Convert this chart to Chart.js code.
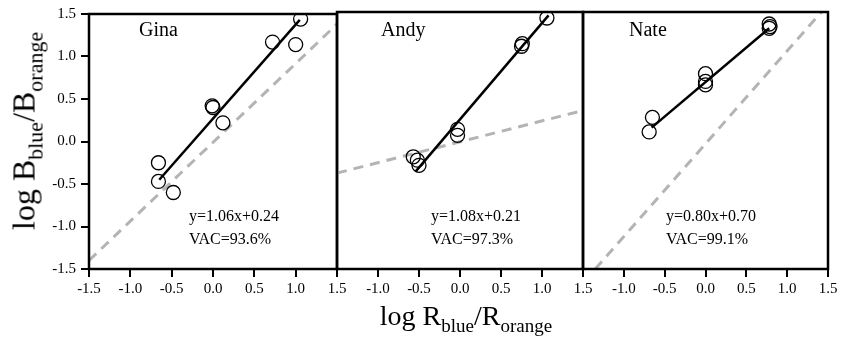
<!DOCTYPE html>
<html>
<head>
<meta charset="utf-8">
<script src="https://cdn.jsdelivr.net/npm/chart.js@4.4.1/dist/chart.umd.min.js"></script>
<style>
  body { margin: 0; background: #fff; }
  #wrap { position: relative; width: 841px; height: 346px; overflow: hidden; font-family: "Liberation Serif", "Times New Roman", serif; }
  #wrap canvas { position: absolute; left: 0; top: 0; }
  .ttl { position: absolute; white-space: nowrap; color: #000; font-size: 28px; line-height: 1; }
  .ttl sub { font-size: 19px; vertical-align: -7px; }
  #ytitle { left: 27px; top: 131px; transform: translate(-50%, -50%) rotate(-90deg); font-size: 32px; }
  #ytitle sub { font-size: 22px; vertical-align: -8px; }
  #xtitle { left: 466px; top: 318px; transform: translate(-50%, -50%); }
</style>
</head>
<body>
<div id="wrap">
  <canvas id="c1" width="841" height="346"></canvas>
  <canvas id="c2" width="841" height="346"></canvas>
  <canvas id="c3" width="841" height="346"></canvas>
  <div id="ytitle" class="ttl">log B<sub>blue</sub>/B<sub>orange</sub></div>
  <div id="xtitle" class="ttl">log R<sub>blue</sub>/R<sub>orange</sub></div>
</div>
<script>
/* ── Data ── */
const panelNames = ['Gina', 'Andy', 'Nate'];
const eqLabels   = ['y=1.06x+0.24', 'y=1.08x+0.21', 'y=0.80x+0.70'];
const vacLabels  = ['VAC=93.6%', 'VAC=97.3%', 'VAC=99.1%'];
const axisTicks  = [-1.5, -1.0, -0.5, 0.0, 0.5, 1.0, 1.5];

const ginaX = [-0.66, -0.66, -0.48, -0.01, 0.00, 0.12, 0.72, 1.00, 1.06];
const ginaY = [-0.25, -0.47, -0.60, 0.42, 0.40, 0.22, 1.17, 1.14, 1.44];
const andyX = [-0.57, -0.52, -0.50, -0.03, -0.03, 0.75, 0.76, 1.06];
const andyY = [-0.19, -0.23, -0.29, 0.13, 0.06, 1.10, 1.13, 1.43];
const nateX = [-0.69, -0.65, 0.00, 0.00, 0.00, 0.78, 0.79, 0.78];
const nateY = [0.10, 0.27, 0.78, 0.69, 0.65, 1.36, 1.33, 1.31];

// fitted regression lines (end points)
const ginaFitX = [-0.65, 1.05], ginaFitY = [-0.45, 1.43];
const andyFitX = [-0.54, 1.08], andyFitY = [-0.36, 1.46];
const nateFitX = [-0.66, 0.78], nateFitY = [0.15, 1.31];

// grey dashed reference lines
const ginaRefX = [-1.5, 1.5],   ginaRefY = [-1.40, 1.38];
const andyRefX = [-1.5, 1.5],   andyRefY = [-0.38, 0.35];
const nateRefX = [-1.35, 1.42], nateRefY = [-1.5, 1.5];

/* ── Helpers ── */
const FONT = '"Liberation Serif", "Times New Roman", serif';
const zip = (xs, ys) => xs.map((x, i) => ({ x, y: ys[i] }));

const boxPlugin = {
  id: 'box',
  afterDraw(chart) {
    const a = chart.chartArea, c = chart.ctx;
    c.save();
    c.lineWidth = 2.5;
    c.strokeStyle = '#000';
    c.strokeRect(a.left, a.top, a.right - a.left, a.bottom - a.top);
    c.restore();
  }
};

// panel label + equation text, offsets from the panel's left edge
const textPlugin = {
  id: 'panelText',
  afterDraw(chart, args, o) {
    const c = chart.ctx, a = chart.chartArea;
    c.save();
    c.fillStyle = '#000';
    c.textBaseline = 'middle';
    c.textAlign = 'left';
    c.font = '20px ' + FONT;
    c.fillText(o.name, a.left + o.nameDx, 31);
    c.font = '16px ' + FONT;
    c.fillText(o.eq, a.left + o.eqDx, 217);
    c.fillText(o.vac, a.left + o.eqDx, 240);
    c.restore();
  }
};

function makePanel(id, idx, pts, fit, ref, pad, nameDx, eqDx) {
  const first = idx === 0;
  return new Chart(document.getElementById(id), {
    type: 'scatter',
    data: {
      datasets: [
        {
          data: pts, order: 0, showLine: false,
          pointStyle: 'circle', pointRadius: 7, pointHoverRadius: 7,
          borderColor: '#000', borderWidth: 1.3, backgroundColor: 'rgba(0,0,0,0)'
        },
        {
          data: fit, order: 1, showLine: true, pointRadius: 0,
          borderColor: '#000', borderWidth: 2.5
        },
        {
          data: ref, order: 2, showLine: true, pointRadius: 0,
          borderColor: '#b4b4b4', borderWidth: 3, borderDash: [10, 7]
        }
      ]
    },
    options: {
      responsive: false,
      animation: false,
      events: [],
      layout: { padding: { left: pad[0], right: pad[1], top: 12, bottom: 0 } },
      plugins: {
        legend: { display: false },
        tooltip: { enabled: false },
        panelText: { name: panelNames[idx], eq: eqLabels[idx], vac: vacLabels[idx], nameDx, eqDx }
      },
      scales: {
        x: {
          type: 'linear', min: -1.5, max: 1.5,
          afterBuildTicks: s => { s.ticks = axisTicks.map(v => ({ value: v })); },
          afterFit: s => { s.height = 77; },
          border: { display: false },
          grid: { drawOnChartArea: false, drawTicks: true, tickLength: 8, color: '#000', lineWidth: 2 },
          ticks: {
            autoSkip: false, maxRotation: 0, padding: 3, color: '#000',
            font: { family: FONT, size: 15 },
            callback: v => (!first && v === -1.5) ? '' : v.toFixed(1)
          }
        },
        y: {
          type: 'linear', min: -1.5, max: 1.5, display: first,
          afterBuildTicks: s => { s.ticks = axisTicks.map(v => ({ value: v })); },
          afterFit: s => { s.width = first ? 89 : 0; },
          border: { display: false },
          grid: { drawOnChartArea: false, drawTicks: true, tickLength: 8, color: '#000', lineWidth: 2 },
          ticks: {
            autoSkip: false, padding: 5, color: '#000',
            font: { family: FONT, size: 15 },
            callback: v => v.toFixed(1)
          }
        }
      }
    },
    plugins: [boxPlugin, textPlugin]
  });
}

makePanel('c1', 0, zip(ginaX, ginaY), zip(ginaFitX, ginaFitY), zip(ginaRefX, ginaRefY), [0, 841 - 337], 50, 100);
makePanel('c2', 1, zip(andyX, andyY), zip(andyFitX, andyFitY), zip(andyRefX, andyRefY), [337, 841 - 583], 44, 94);
makePanel('c3', 2, zip(nateX, nateY), zip(nateFitX, nateFitY), zip(nateRefX, nateRefY), [583, 841 - 828], 46, 83);
</script>
</body>
</html>
